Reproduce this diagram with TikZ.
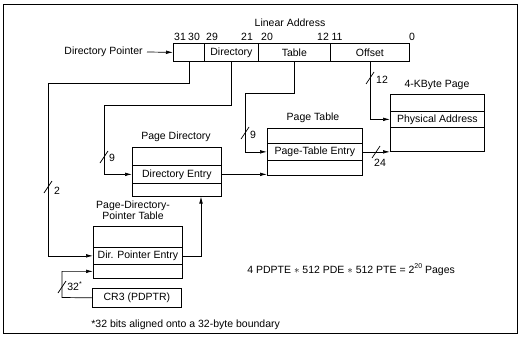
\documentclass[tikz,border=0pt]{standalone}
\usepackage{fontspec}
\setmainfont{Liberation Sans}
\usetikzlibrary{arrows.meta}
\begin{document}
\begin{tikzpicture}[x=1pt,y=-1pt,
  font=\fontsize{10.5}{12}\selectfont,
  line width=0.7pt,
  arr/.style={-{Latex[length=7pt,width=3.6pt]}},
  cell/.style={draw, inner sep=0pt, anchor=north west},
  lbl/.style={inner sep=0pt},
  slash/.style={line width=0.7pt}]
\useasboundingbox (0,0) rectangle (519,337);
\draw (3,4) rectangle (517,333);

% linear address
\node[lbl] (la) at (290,23) {Linear Address};
\node[cell, minimum width=31, minimum height=18] (f1) at (173,43) {};
\node[cell, minimum width=54, minimum height=18] (f2) at (204,43) {Directory};
\node[cell, minimum width=72, minimum height=18] (f3) at (258,43) {Table};
\node[cell, minimum width=79, minimum height=18] (f4) at (330,43) {Offset};
\node[lbl] (b31) at (180,37) {31};
\node[lbl] (b30) at (194,37) {30};
\node[lbl] (b29) at (212,37) {29};
\node[lbl] (b21) at (247,37) {21};
\node[lbl] (b20) at (267,37) {20};
\node[lbl] (b12) at (323,37) {12};
\node[lbl] (b11) at (337,37) {11};
\node[lbl] (b0) at (412,37) {0};
\node[lbl, anchor=east] (dp) at (143,52) {Directory Pointer};
\draw[arr] (dp.east) ++(4,0) coordinate (dpa) (dpa) -- (f1.west);

% page directory
\node[lbl] (pdl) at (176,137) {Page Directory};
\node[cell, minimum width=89, minimum height=18] (pd1) at (132,147) {};
\node[cell, minimum width=89, minimum height=18] (pd2) at (132,165) {Directory Entry};
\node[cell, minimum width=89, minimum height=13] (pd3) at (132,183) {};

% page table
\node[lbl] (ptl) at (313,118) {Page Table};
\node[cell, minimum width=95, minimum height=15] (pt1) at (267,128) {};
\node[cell, minimum width=95, minimum height=17] (pt2) at (267,143) {Page-Table Entry};
\node[cell, minimum width=95, minimum height=15] (pt3) at (267,160) {};

% 4K page
\node[lbl] (pgl) at (437,85) {4-KByte Page};
\node[cell, minimum width=94, minimum height=17] (pg1) at (390,94) {};
\node[cell, minimum width=94, minimum height=16] (pg2) at (390,111) {Physical Address};
\node[cell, minimum width=94, minimum height=24] (pg3) at (390,127) {};

% PDPT
\node[lbl, align=center] (pdptl) at (133,210) {Page-Directory-\\[-1pt]Pointer Table};
\node[cell, minimum width=89, minimum height=21] (pp1) at (93,226) {};
\node[cell, minimum width=89, minimum height=17] (pp2) at (93,247) {Dir. Pointer Entry};
\node[cell, minimum width=89, minimum height=14] (pp3) at (93,264) {};

% CR3
\node[cell, minimum width=89, minimum height=19] (cr3) at (92,288) {CR3 (PDPTR)};

% connectors
\coordinate (c1) at (48,83);
\draw[arr] (f1.south) |- (c1) |- (pp2.west);
\coordinate (c2) at (104,105);
\draw[arr] (f2.south) |- (c2) |- (pd2.west);
\coordinate (c3) at (245,93);
\draw[arr] (f3.south) |- (c3) |- (pt2.west);
\draw[arr] (f4.south) |- (pg2.west);
\draw[arr] (pd2.east) -- (pd2.east -| pt3.west);
\draw[arr] (pt2.east) -- (pt2.east -| pg3.west);
\coordinate (c4) at (201,196.5);
\draw[arr] (pp2.east) -| (c4);
\coordinate (c5) at (62,297.5);
\draw[arr] (cr3.west) -- (c5) |- (pp3.west);

% slashes and widths
\draw[slash] (44,193) -- (52,181); \node[lbl] (w2) at (57,191) {2};
\draw[slash] (100,163) -- (108,151); \node[lbl] (w9a) at (112,158) {9};
\draw[slash] (241,139) -- (249,127); \node[lbl] (w9b) at (253,135) {9};
\draw[slash] (366,84) -- (374,72); \node[lbl] (w12) at (382,80) {12};
\draw[slash] (372,158) -- (380,146); \node[lbl] (w24) at (380,163) {24};
\draw[slash] (58,293) -- (66,281); \node[lbl, anchor=west] (w32) at (67,286) {32\raisebox{0.8ex}{\scriptsize *}};

% text
\node[lbl, anchor=west] (eq) at (247,270) {4 PDPTE $\ast$ 512 PDE $\ast$ 512 PTE = 2\raisebox{0.9ex}{\scriptsize 20} Pages};
\node[lbl, anchor=west] (fn) at (91,325) {*32 bits aligned onto a 32-byte boundary};
\end{tikzpicture}
\end{document}
